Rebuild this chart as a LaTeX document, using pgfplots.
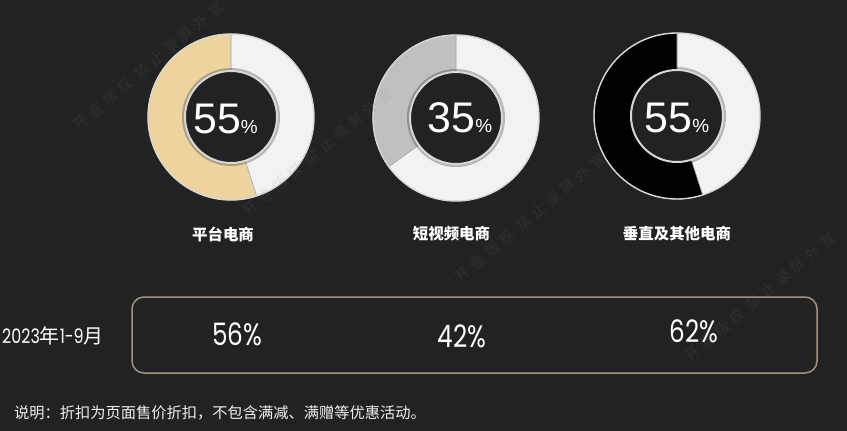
\documentclass[border=0pt]{standalone}
\usepackage{pgfplots}
\pgfplotsset{compat=1.18}
\usepackage{pgfplotstable}
\usepackage{fontspec}
\setmainfont{Liberation Sans}
\newfontfamily\cjk{Noto Sans CJK SC}
\newfontfamily\wmfont{Noto Sans CJK SC}[LetterSpace=28]
\newfontfamily\numfont{Poppins}[FakeStretch=0.8]

\definecolor{bg}{RGB}{34,34,34}
\definecolor{ringlight}{RGB}{242,242,242}
\definecolor{gold}{RGB}{237,212,158}
\definecolor{midgray}{RGB}{192,192,192}
\definecolor{rim}{RGB}{215,215,215}
\definecolor{boxline}{RGB}{160,148,124}
\definecolor{wm}{RGB}{128,128,128}

% donut centres (pixels, y down) and share in percent
\pgfplotstableread{
cx  cy  share
231 117 55
456 118 35
677 116 55
}\donuts

% 2023 1-9 discount share per channel
\pgfplotstableread{
x   y   pct
237 345 56
462 347 42
694 342 62
}\boxvals

% one donut: cx, cy, share, wedge colour
\newcommand{\donut}[4]{%
  \fill[ringlight] (axis cs:#1,#2) circle[radius=83bp];
  \fill[#4, draw=gray!70, line width=0.6bp] (axis cs:#1,#2) -- ++(90:83bp)
    arc[start angle=90, delta angle=3.6*#3, radius=83bp] -- cycle;
  \draw[rim, line width=1.4bp] (axis cs:#1,#2) circle[radius=83bp];
  \fill[black, opacity=0.25] (axis cs:#1,#2) circle[radius=49bp];
  \fill[bg] (axis cs:#1,#2) circle[radius=46bp];
  \draw[rim, line width=2bp] (axis cs:#1,#2) circle[radius=46bp];
}
\newcommand{\wmark}[2]{%
  \node[wm, opacity=0.14, rotate=40] at (axis cs:#1,#2)
    {\wmfont\fontsize{15}{15}\selectfont 开卷版权 禁止录屏外宣};
}

\begin{document}
\begin{tikzpicture}
\pgfplotstablegetelem{0}{share}\of\donuts \edef\sA{\pgfplotsretval}
\pgfplotstablegetelem{1}{share}\of\donuts \edef\sB{\pgfplotsretval}
\pgfplotstablegetelem{2}{share}\of\donuts \edef\sC{\pgfplotsretval}
\pgfplotstablegetelem{0}{pct}\of\boxvals \edef\pA{\pgfplotsretval}
\pgfplotstablegetelem{1}{pct}\of\boxvals \edef\pB{\pgfplotsretval}
\pgfplotstablegetelem{2}{pct}\of\boxvals \edef\pC{\pgfplotsretval}
\begin{axis}[
  name=ax,
  scale only axis, width=847bp, height=431bp,
  xmin=0, xmax=847, ymin=0, ymax=431, y dir=reverse,
  hide axis, clip=true]
\fill[bg] (axis cs:0,0) rectangle (axis cs:847,431);

\donut{231}{117}{\sA}{gold}
\donut{456}{118}{\sB}{midgray}
\donut{677}{116}{\sC}{black}

\node[white, anchor=base, inner sep=0pt] at (axis cs:225.5,133)
  {{\fontsize{43}{43}\selectfont\sA}{\fontsize{19}{19}\selectfont\%}};
\node[white, anchor=base, inner sep=0pt] at (axis cs:460,132)
  {{\fontsize{43}{43}\selectfont\sB}{\fontsize{19}{19}\selectfont\%}};
\node[white, anchor=base, inner sep=0pt] at (axis cs:677,132)
  {{\fontsize{43}{43}\selectfont\sC}{\fontsize{19}{19}\selectfont\%}};

\node[white] at (axis cs:223,234) {\cjk\bfseries\fontsize{15.5}{16}\selectfont 平台电商};
\node[white] at (axis cs:451.5,234) {\cjk\bfseries\fontsize{15.5}{16}\selectfont 短视频电商};
\node[white] at (axis cs:677,234) {\cjk\bfseries\fontsize{15.5}{16}\selectfont 垂直及其他电商};

\draw[boxline, line width=1.5bp, rounded corners=12bp]
  (axis cs:132,297) rectangle (axis cs:817,373);

\node[white, anchor=base west, inner sep=0pt] at (axis cs:2,343)
  {\numfont\fontsize{20}{20}\selectfont 2023{\cjk 年}1-9{\cjk 月}};
\node[white, anchor=base, inner sep=0pt] at (axis cs:237,345)
  {\numfont\fontsize{31}{31}\selectfont\pA\%};
\node[white, anchor=base, inner sep=0pt] at (axis cs:462,347)
  {\numfont\fontsize{31}{31}\selectfont\pB\%};
\node[white, anchor=base, inner sep=0pt] at (axis cs:694,342)
  {\numfont\fontsize{31}{31}\selectfont\pC\%};

\node[white!94!black, anchor=west, inner sep=0pt] at (axis cs:14,412.5)
  {\cjk\fontsize{15.3}{16}\selectfont 说明：折扣为页面售价折扣，不包含满减、满赠等优惠活动。};

% faint watermark
\wmark{148}{66}
\wmark{318}{152}
\wmark{530}{218}
\wmark{760}{297}
\end{axis}
\pgfresetboundingbox
\path (ax.south west) rectangle (ax.north east);
\end{tikzpicture}
\end{document}
